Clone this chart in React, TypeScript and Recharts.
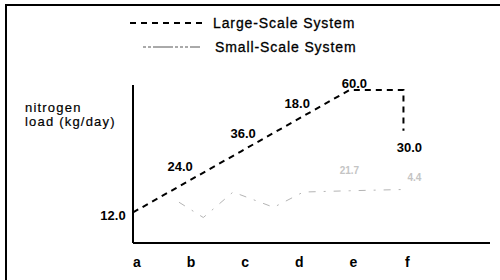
import { LineChart, Line, XAxis, YAxis, LabelList } from 'recharts';

// categories on the x axis
const categories = ['a', 'b', 'c', 'd', 'e', 'f'];
const categoryTicks = [0, 1, 2, 3, 4, 5];

// Large-Scale System (the drop at f is two points on the same x)
const largeX = [0, 1, 2, 3, 4, 5, 5];
const largeY = [12, 24, 36, 48, 60, 60, 44];
const largeLabels = ['12.0', '24.0', '36.0', '18.0', '60.0', '', '30.0'];

// Small-Scale System (faint in the original)
const smallX = [0.85, 1.3, 1.85, 2.6, 3.15, 4, 5];
const smallY = [16, 10, 20, 14, 20, 20.5, 21];
const smallLabels = ['', '', '', '', '', '21.7', '4.4'];

const largeData = largeX.map((x, i) => ({ x, value: largeY[i], label: largeLabels[i] }));
const smallData = smallX.map((x, i) => ({ x, value: smallY[i], label: smallLabels[i] }));

const FONT = 'Arial, "Liberation Sans", Helvetica, sans-serif';
const SMALL_COLOR = '#b4b4b4';

// label offsets from each point (px)
const largeOffsets = [[-20, 3], [-7, -15], [2, -18], [2, -17], [5, -7], [0, 0], [6, 17]];
const smallOffsets = [[0, 0], [0, 0], [0, 0], [0, 0], [0, 0], [0, -20], [11, -12]];

function makeLabel(offsets: number[][], color: string, size: number) {
  return (props: any) => {
    const { x, y, value, index } = props;
    if (!value) return null;
    const [dx, dy] = offsets[index] || [0, 0];
    return (
      <text
        x={x + dx}
        y={y + dy}
        textAnchor="middle"
        dominantBaseline="central"
        fontFamily={FONT}
        fontSize={size}
        fontWeight="bold"
        fill={color}
      >
        {value}
      </text>
    );
  };
}

function ChartLegend() {
  return (
    <svg width={500} height={130} style={{ position: 'absolute', left: 0, top: 0 }}>
      <line x1={130} y1={23} x2={206} y2={23} stroke="#000" strokeWidth={2} strokeDasharray="6 5" />
      <text x={213} y={28} fontFamily={FONT} fontSize={14} letterSpacing={0.9} fill="#000" stroke="#000" strokeWidth={0.3}>
        Large-Scale System
      </text>
      <line x1={143} y1={47} x2={200} y2={47} stroke="#555" strokeWidth={1} strokeDasharray="3 2 3 2 20 2 3 2" />
      <text x={215} y={52} fontFamily={FONT} fontSize={14} letterSpacing={0.9} fill="#000" stroke="#000" strokeWidth={0.3}>
        Small-Scale System
      </text>
      <text fontFamily={FONT} fontSize={13} fill="#000" letterSpacing={1.2} stroke="#000" strokeWidth={0.2}>
        <tspan x={25} y={112}>nitrogen</tspan>
        <tspan x={25} y={126}>load (kg/day)</tspan>
      </text>
    </svg>
  );
}

export default function App() {
  return (
    <div
      style={{
        position: 'absolute',
        left: 0,
        top: 0,
        width: 500,
        height: 280,
        overflow: 'hidden',
        background: '#fff',
      }}
    >
      <ChartLegend />
      <div style={{ position: 'absolute', left: 0, top: 0 }}>
        <LineChart width={500} height={280} margin={{ top: 85, right: 10, left: 132, bottom: 0 }}>
          <XAxis
            type="number"
            dataKey="x"
            domain={[0, 6.6]}
            ticks={categoryTicks}
            tickFormatter={(i: number) => categories[i]}
            allowDataOverflow
            height={37}
            tickLine={false}
            tickMargin={8}
            axisLine={{ stroke: '#000', strokeWidth: 2 }}
            tick={{ fill: '#000', fontSize: 14, fontWeight: 'bold', fontFamily: FONT, dx: 4 }}
          />
          <YAxis
            type="number"
            domain={[0, 62]}
            width={1}
            tick={false}
            tickLine={false}
            axisLine={{ stroke: '#000', strokeWidth: 2 }}
          />
          <Line
            data={largeData}
            dataKey="value"
            type="linear"
            stroke="#000"
            strokeWidth={2}
            strokeDasharray="6 5"
            dot={false}
            isAnimationActive={false}
          >
            <LabelList dataKey="label" content={makeLabel(largeOffsets, '#000', 13)} />
          </Line>
          <Line
            data={smallData}
            dataKey="value"
            type="linear"
            stroke={SMALL_COLOR}
            strokeWidth={1}
            strokeDasharray="7 8 2 8"
            dot={false}
            isAnimationActive={false}
          >
            <LabelList dataKey="label" content={makeLabel(smallOffsets, '#c4c4c4', 10)} />
          </Line>
        </LineChart>
      </div>
      <div
        style={{
          position: 'absolute',
          left: 5,
          top: 4,
          width: 520,
          height: 300,
          borderTop: '2px solid #000',
          borderLeft: '2px solid #000',
          pointerEvents: 'none',
        }}
      />
    </div>
  );
}
